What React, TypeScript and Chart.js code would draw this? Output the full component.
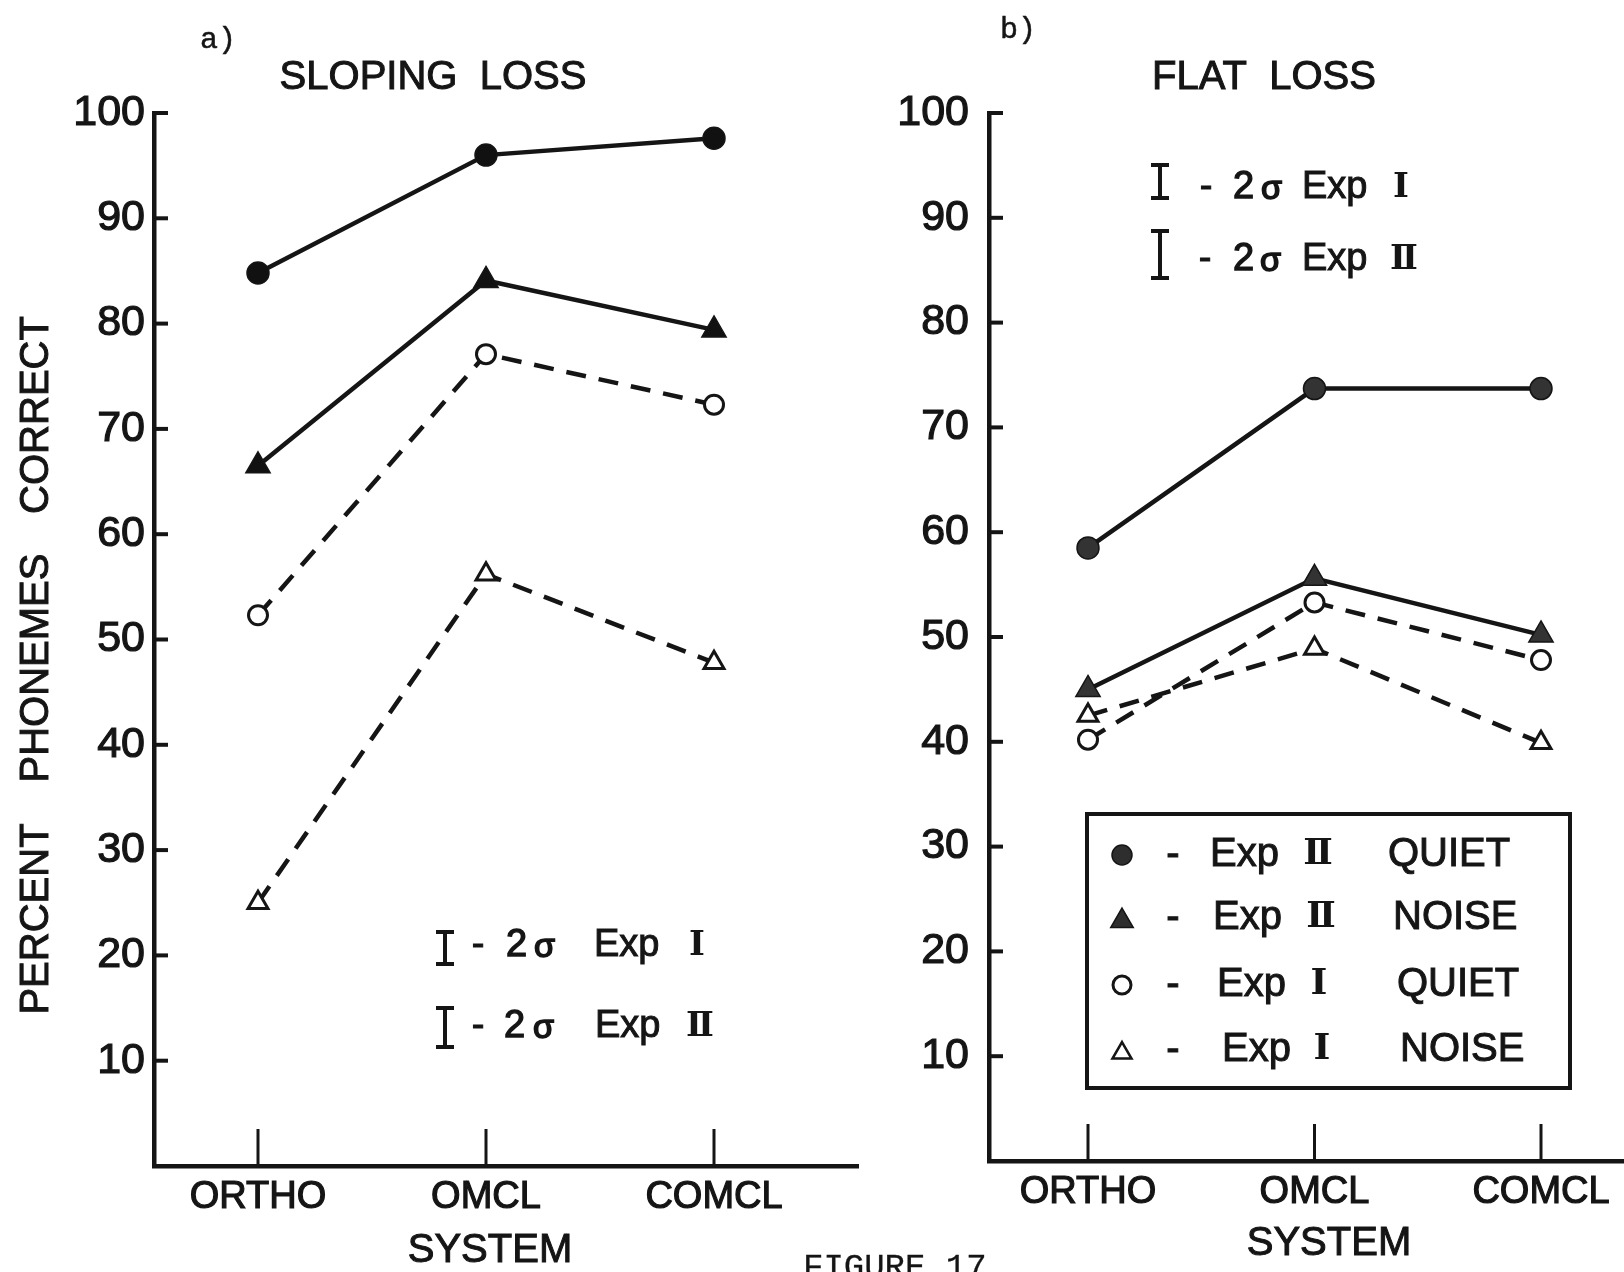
import React, { useEffect, useRef } from "react";
import { Chart, registerables } from "chart.js";

Chart.register(...registerables);

// ---------- data ----------
const categories = ["ORTHO", "OMCL", "COMCL"];
const yTickValues = [10, 20, 30, 40, 50, 60, 70, 80, 90, 100];

// a) Sloping loss
const slopingExp2Quiet = [84.8, 96.0, 97.6];
const slopingExp2Noise = [66.5, 84.1, 79.4];
const slopingExp1Quiet = [52.3, 77.1, 72.3];
const slopingExp1Noise = [25.0, 56.2, 47.8];

// b) Flat loss
const flatExp2Quiet = [58.5, 73.7, 73.7];
const flatExp2Noise = [45.0, 55.6, 50.2];
const flatExp1Quiet = [40.2, 53.3, 47.8];
const flatExp1Noise = [42.5, 48.9, 39.9];

const legendExp = ["II", "II", "I", "I"];
const legendCond = ["QUIET", "NOISE", "QUIET", "NOISE"];

// ---------- styles ----------
const INK = "#151515";
const SANS = '"Liberation Sans", Arial, sans-serif';
const SERIF = '"DejaVu Serif", "Liberation Serif", serif';
const MONO = '"Liberation Mono", "Courier New", monospace';
const W = 1624;
const H = 1272;
const Y_FONT = 43;
const X_FONT = 38;
const X_PAD = 9;

type Ctx = CanvasRenderingContext2D;

function txt(
  ctx: Ctx,
  s: string,
  x: number,
  y: number,
  size: number,
  align: CanvasTextAlign = "left",
  family: string = SANS,
  weight: string = "normal",
  stroke = 1
) {
  ctx.font = `${weight} ${size}px ${family}`;
  ctx.textAlign = align;
  ctx.textBaseline = "middle";
  ctx.fillStyle = INK;
  ctx.fillText(s, x, y);
  if (stroke > 0) {
    ctx.lineWidth = stroke;
    ctx.strokeStyle = INK;
    ctx.strokeText(s, x, y);
  }
}

function errSym(ctx: Ctx, x: number, y0: number, y1: number) {
  ctx.strokeStyle = INK;
  ctx.lineCap = "butt";
  ctx.lineWidth = 4;
  ctx.beginPath();
  ctx.moveTo(x, y0);
  ctx.lineTo(x, y1);
  ctx.stroke();
  ctx.beginPath();
  ctx.moveTo(x - 9, y0 + 2);
  ctx.lineTo(x + 9, y0 + 2);
  ctx.moveTo(x - 9, y1 - 2);
  ctx.lineTo(x + 9, y1 - 2);
  ctx.stroke();
}

function numeral(ctx: Ctx, s: string, cx: number, y: number, size: number) {
  ctx.save();
  (ctx as any).letterSpacing = s.length > 1 ? "-4px" : "0px";
  txt(ctx, s, cx, y, size, "center", SERIF, "bold", 0);
  ctx.restore();
}

function errRow(
  ctx: Ctx,
  symX: number,
  y0: number,
  y1: number,
  ty: number,
  dashX: number,
  twoX: number,
  sigX: number,
  expX: number,
  numX: number,
  num: string
) {
  errSym(ctx, symX, y0, y1);
  txt(ctx, "-", dashX, ty, 38, "center");
  txt(ctx, "2", twoX, ty, 38, "left", SANS, "normal", 1.4);
  txt(ctx, "σ", sigX, ty + 2, 34, "left", SANS, "normal", 1.6);
  txt(ctx, "Exp", expX, ty, 38);
  numeral(ctx, num, numX, ty, 34);
}

function marker(ctx: Ctx, kind: string, x: number, y: number) {
  ctx.save();
  ctx.strokeStyle = INK;
  if (kind === "fc" || kind === "oc") {
    ctx.beginPath();
    ctx.arc(x, y, kind === "fc" ? 10 : 9, 0, Math.PI * 2);
    if (kind === "fc") {
      ctx.fillStyle = "#2e2e2e";
      ctx.fill();
      ctx.lineWidth = 1.5;
      ctx.stroke();
    } else {
      ctx.fillStyle = "#fff";
      ctx.fill();
      ctx.lineWidth = 3;
      ctx.stroke();
    }
  } else {
    const r = kind === "ft" ? 13 : 11;
    ctx.beginPath();
    for (let k = 0; k < 3; k++) {
      const a = -Math.PI / 2 + (k * 2 * Math.PI) / 3;
      const px = x + Math.cos(a) * r;
      const py = y + Math.sin(a) * r + 3;
      if (k === 0) ctx.moveTo(px, py);
      else ctx.lineTo(px, py);
    }
    ctx.closePath();
    if (kind === "ft") {
      ctx.fillStyle = "#2e2e2e";
      ctx.fill();
      ctx.lineWidth = 1.5;
      ctx.stroke();
    } else {
      ctx.fillStyle = "#fff";
      ctx.fill();
      ctx.lineWidth = 2.5;
      ctx.stroke();
    }
  }
  ctx.restore();
}

const inwardTicks = {
  id: "inwardTicks",
  beforeDatasetsDraw(chart: any) {
    const { ctx, chartArea, scales } = chart;
    ctx.save();
    ctx.strokeStyle = INK;
    ctx.lineCap = "butt";
    ctx.lineWidth = 4;
    yTickValues.forEach((v) => {
      const py = scales.y.getPixelForValue(v);
      ctx.beginPath();
      ctx.moveTo(chartArea.left, py);
      ctx.lineTo(chartArea.left + 14, py);
      ctx.stroke();
    });
    ctx.lineWidth = 3;
    categories.forEach((_, i) => {
      const px = scales.x.getPixelForValue(i);
      ctx.beginPath();
      ctx.moveTo(px, chartArea.bottom);
      ctx.lineTo(px, chartArea.bottom - 37);
      ctx.stroke();
    });
    ctx.restore();
  },
  // thicken the library's own tick labels (ink-drawn lettering look)
  afterDraw(chart: any) {
    const { ctx, chartArea, scales } = chart;
    const yPad = chart.options.scales.y.ticks.padding;
    ctx.save();
    ctx.strokeStyle = INK;
    ctx.lineWidth = 1.2;
    ctx.textBaseline = "middle";
    ctx.font = `normal ${Y_FONT}px ${SANS}`;
    ctx.textAlign = "right";
    yTickValues.forEach((v) => {
      ctx.strokeText(String(v), chartArea.left - yPad, scales.y.getPixelForValue(v));
    });
    ctx.font = `normal ${X_FONT}px ${SANS}`;
    ctx.textAlign = "center";
    const ly = scales.x.top + X_PAD + (X_FONT * 1.2) / 2;
    categories.forEach((c, i) => {
      ctx.strokeText(c, scales.x.getPixelForValue(i), ly);
    });
    ctx.restore();
  },
};

function series(
  values: number[],
  label: string,
  style: "circle" | "triangle",
  filled: boolean,
  dashed: boolean,
  fillColor: string
) {
  return {
    label,
    data: values.map((v, i) => ({ x: i, y: v })),
    borderColor: INK,
    borderWidth: 4.5,
    borderDash: dashed ? [20, 13] : [],
    tension: 0,
    clip: false as any,
    pointStyle: style,
    pointRadius: style === "circle" ? (filled ? 11 : 9.5) : filled ? 14 : 11.5,
    pointBackgroundColor: filled ? fillColor : "#ffffff",
    pointBorderColor: INK,
    pointBorderWidth: filled ? 1.5 : 3,
  };
}

type PanelDef = {
  axisLeft: number;
  axisRight: number;
  top: number;
  bottom: number;
  xMin: number;
  xMax: number;
  yPad: number;
  data: number[][];
  fill: string;
  draw: (ctx: Ctx, chart: any) => void;
};

function makeConfig(p: PanelDef): any {
  const [q2, n2, q1, n1] = p.data;
  return {
    type: "line",
    data: {
      datasets: [
        series(q2, "Exp II QUIET", "circle", true, false, p.fill),
        series(n2, "Exp II NOISE", "triangle", true, false, p.fill),
        series(q1, "Exp I QUIET", "circle", false, true, p.fill),
        series(n1, "Exp I NOISE", "triangle", false, true, p.fill),
      ],
    },
    options: {
      responsive: false,
      animation: false,
      devicePixelRatio: 1,
      layout: {
        autoPadding: false,
        padding: { left: 0, top: p.top, right: W - p.axisRight, bottom: 0 },
      },
      plugins: {
        legend: { display: false },
        title: { display: false },
        tooltip: { enabled: false },
      },
      scales: {
        x: {
          type: "linear",
          position: "bottom",
          min: p.xMin,
          max: p.xMax,
          afterFit: (s: any) => {
            s.height = H - p.bottom;
          },
          afterBuildTicks: (s: any) => {
            s.ticks = categories.map((_, i) => ({ value: i }));
          },
          grid: { display: false, drawTicks: false },
          border: { display: true, color: INK, width: 4.5 },
          ticks: {
            color: INK,
            font: { family: SANS, size: X_FONT },
            padding: X_PAD,
            autoSkip: false,
            maxRotation: 0,
            callback: (v: any) => categories[Math.round(v)] ?? "",
          },
        },
        y: {
          type: "linear",
          position: "left",
          min: 0,
          max: 100,
          afterFit: (s: any) => {
            s.width = p.axisLeft;
          },
          afterBuildTicks: (s: any) => {
            s.ticks = yTickValues.map((v) => ({ value: v }));
          },
          grid: { display: false, drawTicks: false },
          border: { display: true, color: INK, width: 4.5 },
          ticks: {
            color: INK,
            font: { family: SANS, size: Y_FONT },
            padding: p.yPad,
            callback: (v: any) => String(v),
          },
        },
      },
    },
    plugins: [
      inwardTicks,
      {
        id: "panelText",
        afterDraw(chart: any) {
          const ctx = chart.ctx as Ctx;
          ctx.save();
          p.draw(ctx, chart);
          ctx.restore();
        },
      },
    ],
  };
}

function drawLeft(ctx: Ctx) {
  txt(ctx, "a)", 200, 40, 30, "left", MONO, "normal", 0.5);
  txt(ctx, "SLOPING  LOSS", 433, 78, 40, "center");
  txt(ctx, "SYSTEM", 490, 1251, 40, "center");
  // rotated y title
  ctx.save();
  ctx.translate(37, 0);
  ctx.rotate(-Math.PI / 2);
  txt(ctx, "PERCENT", -919, 0, 40, "center");
  txt(ctx, "PHONEMES", -668, 0, 40, "center");
  txt(ctx, "CORRECT", -415, 0, 40, "center");
  ctx.restore();
  errRow(ctx, 445, 930, 966, 946, 478, 506, 534, 594, 697, "I");
  errRow(ctx, 445, 1006, 1049, 1027, 478, 504, 533, 595, 698, "II");
  txt(ctx, "FIGURE 17", 803, 1268, 34, "left", MONO, "normal", 0.3);
}

function drawRight(ctx: Ctx) {
  txt(ctx, "b)", 1000, 30, 30, "left", MONO, "normal", 0.5);
  txt(ctx, "FLAT  LOSS", 1264, 78, 40, "center");
  txt(ctx, "SYSTEM", 1329, 1244, 40, "center");
  errRow(ctx, 1160, 163, 200, 188, 1206, 1233, 1261, 1302, 1401, "I");
  errRow(ctx, 1160, 229, 280, 260, 1205, 1233, 1260, 1302, 1402, "II");
  // legend box
  ctx.strokeStyle = INK;
  ctx.lineWidth = 4;
  ctx.strokeRect(1087, 814, 483, 274);
  const rowsY = [855, 918, 985, 1050];
  const kinds = ["fc", "ft", "oc", "ot"];
  const expX = [1210, 1213, 1217, 1222];
  const numX = [1316, 1319, 1319, 1322];
  const condX = [1388, 1393, 1397, 1400];
  rowsY.forEach((y, i) => {
    marker(ctx, kinds[i], 1122, y);
    txt(ctx, "-", 1173, y, 40, "center");
    txt(ctx, "Exp", expX[i], y, 40);
    numeral(ctx, legendExp[i], numX[i], y, 36);
    txt(ctx, legendCond[i], condX[i], y, 40);
  });
}

const leftPanel: PanelDef = {
  axisLeft: 154,
  axisRight: 858,
  top: 113,
  bottom: 1166,
  xMin: -(258 - 154) / 228,
  xMax: (858 - 258) / 228,
  yPad: 9,
  data: [slopingExp2Quiet, slopingExp2Noise, slopingExp1Quiet, slopingExp1Noise],
  fill: "#111111",
  draw: drawLeft,
};

const rightPanel: PanelDef = {
  axisLeft: 989,
  axisRight: W,
  top: 113,
  bottom: 1161,
  xMin: -(1088 - 989) / 226.5,
  xMax: (W - 1088) / 226.5,
  yPad: 20,
  data: [flatExp2Quiet, flatExp2Noise, flatExp1Quiet, flatExp1Noise],
  fill: "#333333",
  draw: drawRight,
};

export default function App() {
  const leftRef = useRef<HTMLCanvasElement | null>(null);
  const rightRef = useRef<HTMLCanvasElement | null>(null);

  useEffect(() => {
    document.body.style.margin = "0";
    document.body.style.background = "#ffffff";
    const charts: Chart[] = [];
    if (leftRef.current) charts.push(new Chart(leftRef.current, makeConfig(leftPanel)));
    if (rightRef.current) charts.push(new Chart(rightRef.current, makeConfig(rightPanel)));
    return () => charts.forEach((c) => c.destroy());
  }, []);

  const canvasStyle: React.CSSProperties = {
    position: "absolute",
    left: 0,
    top: 0,
    width: W,
    height: H,
  };

  return (
    <div
      style={{
        position: "fixed",
        left: 0,
        top: 0,
        width: W,
        height: H,
        background: "#ffffff",
        overflow: "hidden",
      }}
    >
      <canvas ref={leftRef} width={W} height={H} style={canvasStyle} />
      <canvas ref={rightRef} width={W} height={H} style={canvasStyle} />
    </div>
  );
}
